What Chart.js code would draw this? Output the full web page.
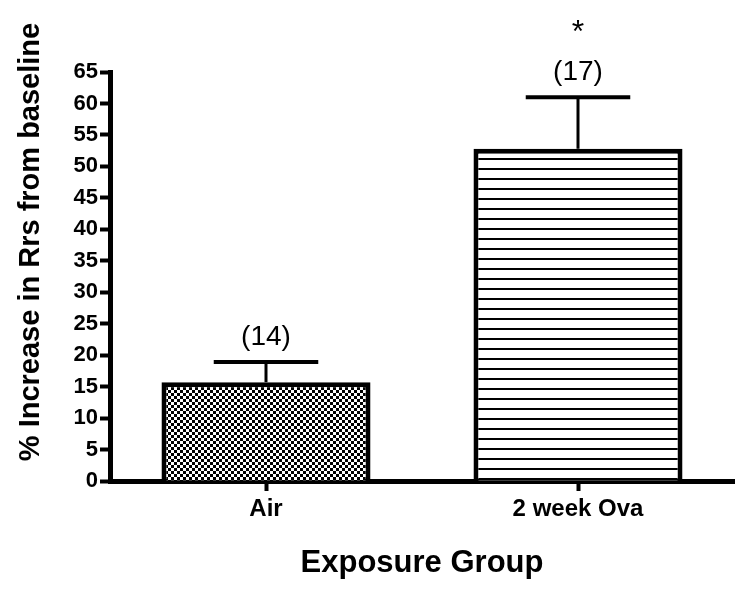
<!DOCTYPE html>
<html>
<head>
<meta charset="utf-8">
<script src="https://cdn.jsdelivr.net/npm/chart.js@4/dist/chart.umd.min.js"></script>
<style>
html,body{margin:0;padding:0;background:#fff;}
#wrap{width:750px;height:596px;position:relative;}
</style>
</head>
<body>
<div id="wrap"><canvas id="c" width="750" height="596"></canvas></div>
<script>
const categories = ["Air", "2 week Ova"];
const meanValues = [15.7, 52.8];
const errorValues = [3.2, 8.2];
const nLabels = ["(14)", "(17)"];
const sigMarks = ["", "*"];
const yTicks = [0,5,10,15,20,25,30,35,40,45,50,55,60,65];
const yTitle = "% Increase in Rrs from baseline";
const xTitle = "Exposure Group";

const FONT = "'Liberation Sans', Arial, Helvetica, sans-serif";

function checkerPattern(){
  const c = document.createElement('canvas');
  c.width = 6; c.height = 6;
  const g = c.getContext('2d');
  g.fillStyle = '#fff'; g.fillRect(0,0,6,6);
  g.fillStyle = '#000'; g.fillRect(0,0,3,3); g.fillRect(3,3,3,3);
  return g.createPattern(c,'repeat');
}
function linePattern(){
  const c = document.createElement('canvas');
  c.width = 10; c.height = 10;
  const g = c.getContext('2d');
  g.fillStyle = '#fff'; g.fillRect(0,0,10,10);
  g.fillStyle = '#000'; g.fillRect(0,8,10,2);
  return g.createPattern(c,'repeat');
}

const errorBarPlugin = {
  id: 'errorBars',
  afterDatasetsDraw(chart){
    const ctx = chart.ctx;
    const y = chart.scales.y;
    const meta = chart.getDatasetMeta(0);
    ctx.save();
    ctx.strokeStyle = '#000';
    ctx.fillStyle = '#000';
    meta.data.forEach((bar, i) => {
      const x = bar.x;
      const yb = y.getPixelForValue(meanValues[i]);
      const yt = y.getPixelForValue(meanValues[i] + errorValues[i]);
      const half = bar.width / 4;
      ctx.lineWidth = 3;
      ctx.beginPath(); ctx.moveTo(x, yb); ctx.lineTo(x, yt); ctx.stroke();
      ctx.lineWidth = 4;
      ctx.beginPath(); ctx.moveTo(x - half, yt); ctx.lineTo(x + half, yt); ctx.stroke();
      ctx.font = "28px " + FONT;
      ctx.textAlign = 'center';
      ctx.textBaseline = 'middle';
      ctx.fillText(nLabels[i], x, yt - 25);
      if (sigMarks[i]) {
        ctx.font = "32px " + FONT;
        ctx.textBaseline = 'alphabetic';
        ctx.fillText(sigMarks[i], x, yt - 55);
      }
    });
    // y axis title
    ctx.save();
    ctx.font = "bold 29px " + FONT;
    ctx.textAlign = 'center';
    ctx.textBaseline = 'middle';
    ctx.translate(31, 242);
    ctx.rotate(-Math.PI/2);
    ctx.fillText(yTitle, 0, 0);
    ctx.restore();
    ctx.restore();
  }
};

new Chart(document.getElementById('c'), {
  type: 'bar',
  data: {
    labels: categories,
    datasets: [{
      data: meanValues,
      backgroundColor: [checkerPattern(), linePattern()],
      borderColor: '#000',
      borderWidth: 5,
      borderSkipped: 'bottom',
      barPercentage: 0.67,
      categoryPercentage: 1.0
    }]
  },
  options: {
    responsive: false,
    animation: false,
    events: [],
    layout: { padding: { left: 0, right: 16, top: 72, bottom: 0 } },
    plugins: { legend: { display: false }, tooltip: { enabled: false }, title: { display: false } },
    scales: {
      x: {
        afterFit(s){ s.height = 115; },
        grid: { display: true, drawOnChartArea: false, drawTicks: true, offset: false, tickLength: 10, tickWidth: 4, tickColor: '#000' },
        border: { display: true, color: '#000', width: 5 },
        ticks: { color: '#000', padding: 4, font: { family: FONT, size: 24, weight: 'bold' } },
        title: { display: true, text: xTitle, color: '#000', padding: { top: 14, bottom: 14 }, font: { family: FONT, size: 31, weight: 'bold' } }
      },
      y: {
        min: 0, max: 65,
        afterFit(s){ s.width = 110; },
        afterBuildTicks(s){ s.ticks = yTicks.map(v => ({ value: v })); },
        grid: { display: true, drawOnChartArea: false, drawTicks: true, tickLength: 10, tickWidth: 4, tickColor: '#000' },
        border: { display: true, color: '#000', width: 5 },
        ticks: { color: '#000', padding: 2, font: { family: FONT, size: 22, weight: 'bold' } }
      }
    }
  },
  plugins: [errorBarPlugin]
});
</script>
</body>
</html>
